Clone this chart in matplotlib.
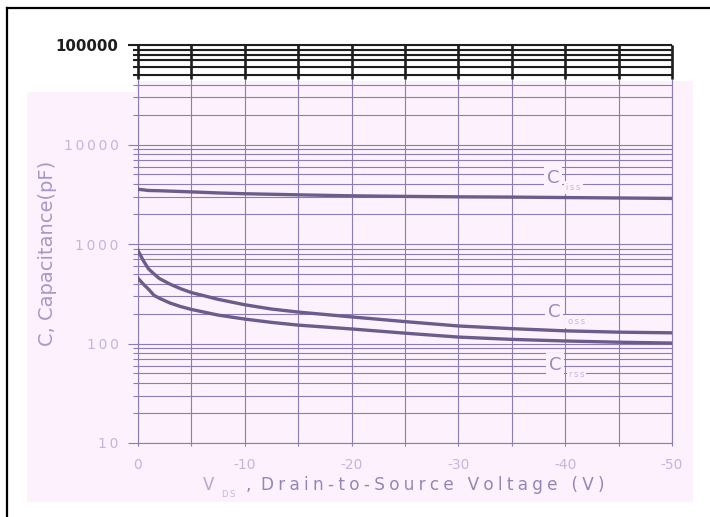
'''
Capacitance vs drain-to-source voltage (datasheet style plot)
'''
from matplotlib import pyplot as plt
from matplotlib.patches import Rectangle
from matplotlib.lines import Line2D
from matplotlib.ticker import NullFormatter

# values
vds = [0, -0.5, -1, -1.5, -2, -3, -4, -5, -7.5, -10, -12.5, -15, -20, -25, -30, -35, -40, -45, -50]
ciss = [3550, 3500, 3450, 3440, 3430, 3400, 3370, 3340, 3260, 3200, 3160, 3120, 3050, 3010, 2980, 2960, 2930, 2900, 2870]
coss = [860, 680, 560, 500, 450, 395, 355, 325, 278, 245, 222, 207, 185, 166, 150, 141, 134, 130, 128]
crss = [452, 395, 350, 305, 285, 255, 235, 220, 193, 176, 163, 153, 140, 127, 116, 110, 106, 103, 101]

y_ticks = [10, 100, 1000, 10000, 100000]
y_ticklabels = ['10', '100', '1000', '10000', '100000']
x_ticks = [0, -5, -10, -15, -20, -25, -30, -35, -40, -45, -50]
x_ticklabels = ['0', '', '-10', '', '-20', '', '-30', '', '-40', '', '-50']
band_lines = [100000, 90000, 80000, 70000, 60000, 50000]

pink = '#fdf1fd'
grid_c = '#8a7cb6'
curve_c = '#6b5c8c'
light = '#c6b4dc'
W, H = 710, 517

def spaced(s, sep='\u2009'):
	return sep.join(s)

fig = plt.figure(figsize=(W / 100, H / 100), dpi=100)
fig.patch.set_facecolor('white')
# pink panel behind the plot
fig.patches.append(Rectangle((27 / W, 1 - 502 / H), 666 / W, 410 / H, transform=fig.transFigure,
	facecolor=pink, edgecolor='none', zorder=-5))
fig.patches.append(Rectangle((136 / W, 1 - 92 / H), 557 / W, 11 / H, transform=fig.transFigure,
	facecolor=pink, edgecolor='none', zorder=-5))
# frame (left and top edges only visible)
fig.add_artist(Line2D([7 / W, 7 / W], [0, 1 - 8 / H], transform=fig.transFigure, color='black', lw=1.6))
fig.add_artist(Line2D([7 / W, 1], [1 - 8 / H, 1 - 8 / H], transform=fig.transFigure, color='black', lw=1.6))

ax = fig.add_axes([138 / W, 1 - 443 / H, 534 / W, 398 / H])
ax.set_facecolor('none')
ax.set_yscale('log')
ax.set_ylim(10, 100000)
ax.set_xlim(0, -50)

ax.set_axisbelow(True)
ax.grid(which='both', color=grid_c, lw=0.8)
ax.yaxis.set_minor_formatter(NullFormatter())
ax.set_yticks(y_ticks, [spaced(t) for t in y_ticklabels[:-1]] + [y_ticklabels[-1]])
ax.set_xticks(x_ticks, x_ticklabels)
ax.tick_params(axis='y', which='major', length=7, width=0.8, color=grid_c, pad=7, labelsize=10, labelcolor=light)
ax.tick_params(axis='y', which='minor', length=3.5, width=0.8, color=grid_c)
ax.tick_params(axis='x', length=2, width=0.8, color=grid_c, pad=8.5, labelsize=10, labelcolor=light)
top_lab = ax.get_yticklabels()[-1]
top_lab.set_color('#1e1e1e')
top_lab.set_fontweight('bold')
top_lab.set_fontsize(10.8)
for s in ax.spines.values():
	s.set_color(grid_c)
	s.set_linewidth(0.8)
ax.spines['top'].set_visible(False)

# black top band
ax.hlines(band_lines[0], 0.94, -50, color='#1e1e1e', lw=1.5, zorder=3, clip_on=False)
ax.hlines(band_lines[1:], 0.47, -50, color='#1e1e1e', lw=1.5, zorder=3, clip_on=False)
ax.vlines(x_ticks, 45500, 100000, color='#1e1e1e', lw=1.9, zorder=3, clip_on=False)

ax.plot(vds, ciss, color=curve_c, lw=2.4, zorder=4)
ax.plot(vds, coss, color=curve_c, lw=2.4, zorder=4)
ax.plot(vds, crss, color=curve_c, lw=2.4, zorder=4)

# curve labels
for x, y, sub in [(-38.3, 4130, 'iss'), (-38.4, 184.5, 'oss'), (-38.5, 54.2, 'rss')]:
	ax.text(x, y, 'C', fontsize=13, color='#968cbe', ha='left', va='baseline', zorder=5,
		bbox=dict(facecolor=pink, edgecolor='none', pad=2))
	ax.annotate(spaced(sub), (x, y), xytext=(14, -5), textcoords='offset points', fontsize=6,
		color=light, ha='left', va='baseline', zorder=5,
		bbox=dict(facecolor=pink, edgecolor='none', pad=1.5))

# axis titles
ax.text((203 - 138) / 534, (443 - 490) / 398, 'V', transform=ax.transAxes, fontsize=12,
	color='#b4a8d0', ha='left', va='baseline')
ax.text((222 - 138) / 534, (443 - 497) / 398, spaced('DS'), transform=ax.transAxes, fontsize=6,
	color=light, ha='left', va='baseline')
ax.text((246 - 138) / 534, (443 - 490) / 398, ', \u2005' + spaced('Drain-to-Source Voltage (V)', '\u2005'),
	transform=ax.transAxes, fontsize=12.2, color='#9486b8', ha='left', va='baseline')
ax.set_ylabel('C, Capacitance(pF)', fontsize=14, color='#a898c8', va='center')
ax.yaxis.set_label_coords((48 - 138) / 534, (443 - 253.5) / 398)

fig.savefig('out.png', dpi=100)
